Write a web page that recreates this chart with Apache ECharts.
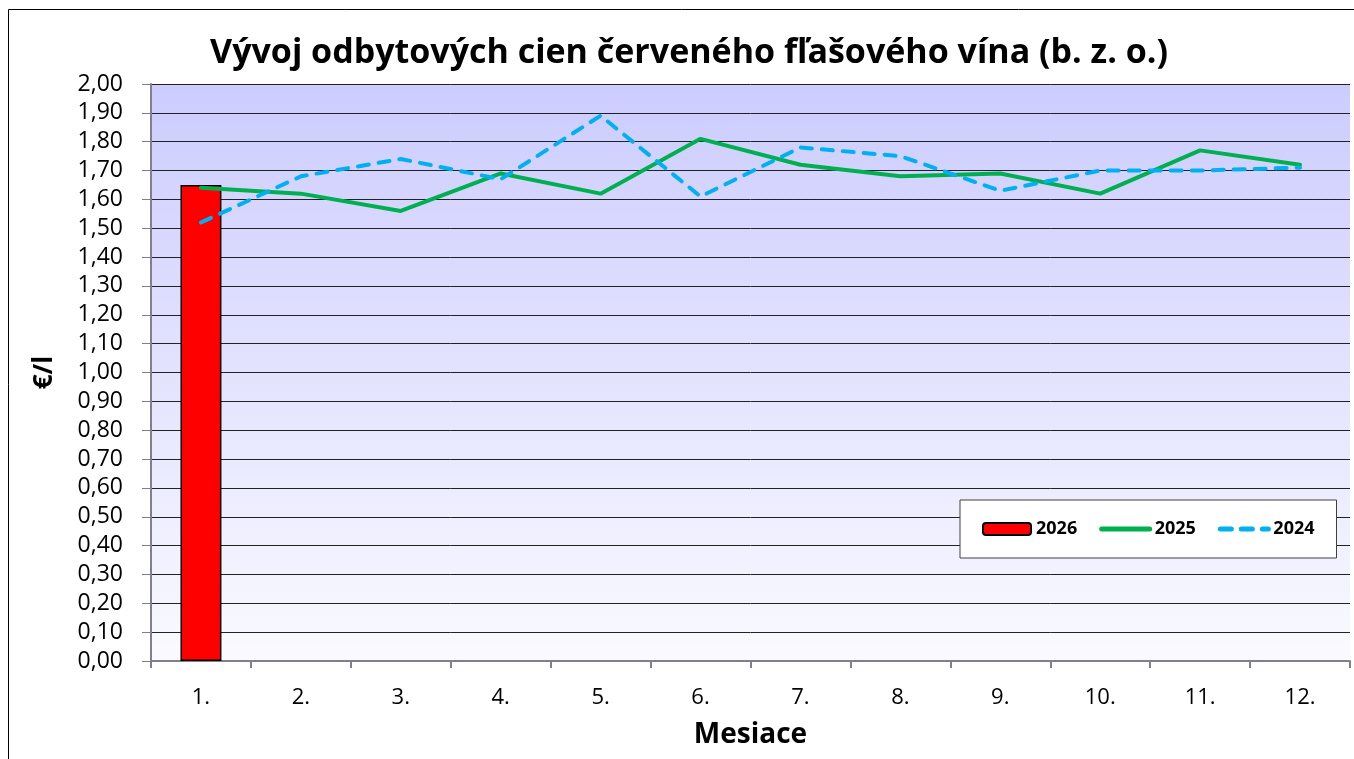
<!DOCTYPE html>
<html lang="sk">
<head>
    <meta charset="UTF-8">
    <title>Vývoj odbytových cien červeného fľašového vína</title>
    <script src="https://cdnjs.cloudflare.com/ajax/libs/echarts/6.0.0/echarts.min.js"></script>
    <style>
        html, body { margin: 0; padding: 0; background: #fff; }
    </style>
</head>
<body>
    <div id="myChart" style="width: 1354px;height: 759px;"></div>

    <script>
        // mesiace
        const months = ['1.', '2.', '3.', '4.', '5.', '6.', '7.', '8.', '9.', '10.', '11.', '12.'];
        // ceny €/l
        const price2026 = [1.65, null, null, null, null, null, null, null, null, null, null, null];
        const price2025 = [1.64, 1.62, 1.56, 1.69, 1.62, 1.81, 1.72, 1.68, 1.69, 1.62, 1.77, 1.72];
        const price2024 = [1.52, 1.68, 1.74, 1.67, 1.89, 1.61, 1.78, 1.75, 1.63, 1.70, 1.70, 1.71];

        const font = '"Open Sans", "DejaVu Sans", sans-serif';

        const chart = echarts.init(document.getElementById('myChart'));
        const option = {
            animation: false,
            backgroundColor: '#fff',
            textStyle: { fontFamily: font },
            title: {
                text: 'Vývoj odbytových cien červeného fľašového vína (b. z. o.)',
                left: 684,
                textAlign: 'center',
                top: 31,
                textStyle: { fontSize: 34, fontWeight: 'bold', color: '#000', fontFamily: font }
            },
            graphic: [{
                type: 'rect',
                shape: { x: 8.5, y: 9.5, width: 1400, height: 800 },
                style: { fill: null, stroke: '#000', lineWidth: 1 },
                z: -1
            }],
            legend: {
                left: 960,
                top: 500,
                padding: [20, 22, 20, 22],
                backgroundColor: '#fff',
                borderColor: '#404040',
                borderWidth: 1,
                itemWidth: 48,
                itemHeight: 12,
                itemGap: 22,
                lineStyle: { width: 5, cap: 'round' },
                textStyle: { fontSize: 18, fontWeight: 'bold', color: '#000', fontFamily: font },
                data: [
                    { name: '2026' },
                    { name: '2025', itemStyle: { opacity: 0 } },
                    { name: '2024', itemStyle: { opacity: 0 } }
                ]
            },
            grid: {
                left: 151,
                right: 4,
                top: 84,
                bottom: 98,
                show: true,
                borderWidth: 0,
                backgroundColor: new echarts.graphic.LinearGradient(0, 0, 0, 1, [
                    { offset: 0, color: '#CCCCFF' },
                    { offset: 1, color: '#FAFAFF' }
                ])
            },
            xAxis: {
                type: 'category',
                data: months,
                name: 'Mesiace',
                nameLocation: 'middle',
                nameGap: 60,
                nameTextStyle: { fontSize: 28, fontWeight: 'bold', color: '#000', fontFamily: font },
                axisLine: { lineStyle: { color: '#7f7f8f', width: 2 } },
                axisTick: { show: true, interval: 0, length: 7, lineStyle: { color: '#7f7f8f', width: 2 } },
                axisLabel: { fontSize: 22, color: '#000', margin: 26, fontFamily: font }
            },
            yAxis: {
                type: 'value',
                min: 0,
                max: 2,
                interval: 0.1,
                name: '€/l',
                nameLocation: 'middle',
                nameGap: 93,
                nameRotate: 90,
                nameTextStyle: { fontSize: 26, fontWeight: 'bold', color: '#000', fontFamily: font },
                axisLine: { show: true, lineStyle: { color: '#7f7f8f', width: 2 } },
                axisTick: { show: true, length: 9, lineStyle: { color: '#7f7f8f', width: 1 } },
                axisLabel: {
                    fontSize: 23, color: '#000', margin: 28, fontFamily: font,
                    formatter: v => v.toFixed(2).replace('.', ',')
                },
                splitLine: { lineStyle: { color: '#222', width: 1 } }
            },
            series: [
                {
                    name: '2026',
                    type: 'bar',
                    data: price2026,
                    barWidth: '41%',
                    itemStyle: { color: '#FF0000', borderColor: '#000', borderWidth: 1.5 },
                    z: 2
                },
                {
                    name: '2025',
                    type: 'line',
                    data: price2025,
                    symbol: 'none',
                    color: '#00B050',
                    lineStyle: { color: '#00B050', width: 4, cap: 'round' },
                    z: 3
                },
                {
                    name: '2024',
                    type: 'line',
                    data: price2024,
                    symbol: 'none',
                    color: '#00B0F0',
                    lineStyle: { color: '#00B0F0', width: 4, type: [11, 10], cap: 'round' },
                    z: 4
                }
            ]
        };
        chart.setOption(option);
    </script>
</body>
</html>
